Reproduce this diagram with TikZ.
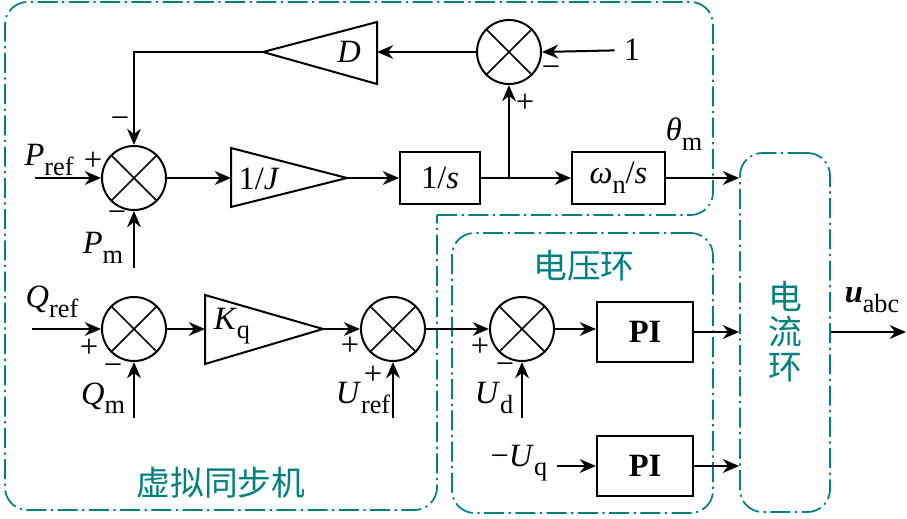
\documentclass[tikz,border=0pt]{standalone}
\usepackage{fontspec}
\setmainfont{Liberation Serif}
\newfontfamily\cjk{Noto Sans CJK SC}
\usetikzlibrary{arrows.meta}
\definecolor{loopteal}{RGB}{0,128,128}
% lowered, slightly smaller subscript in text mode
\newcommand\sbs[1]{\raisebox{-3.8pt}{\fontsize{10.5}{10}\selectfont #1}}

\tikzset{
  arr/.style={-{Stealth[length=6.5pt,width=5.5pt]}},
  sumnode/.style={draw, circle, minimum size=25.6pt, inner sep=0pt},
  block/.style={draw, minimum height=20.8pt, inner sep=0pt},
  loopbox/.style={draw=loopteal, line width=0.7pt, rounded corners=9pt,
    dash pattern=on 8pt off 1.8pt on 0.9pt off 1.8pt},
  sign/.style={inner sep=0pt, font=\fontsize{13}{14}\selectfont},
  looptag/.style={text=loopteal, font=\cjk\fontsize{13.5}{14}\selectfont},
}

\begin{document}
\begin{tikzpicture}[x=0.4pt, y=-0.4pt, line width=0.8pt, font=\fontsize{13}{15}\selectfont]
\useasboundingbox (0,0) rectangle (907,519);

%the three dash-dot loop boxes
\draw[loopbox] (437,215) -- (713,215) -- (713,2) -- (5,2) -- (5,510)
  -- (437,510) -- (437,215);
\node[loopbox, minimum width=104.4pt, minimum height=112pt] (vl) at (582.5,373) {};
\node[loopbox, minimum width=36pt, minimum height=143.6pt] (cl) at (785,332.5) {};
\node[looptag] (vsmtag) at (221,483) {虚拟同步机};
\node[looptag] (vltag) at (584,266) {电压环};
\node[looptag, align=center, font=\cjk\fontsize{13.5}{14}\selectfont] (cltag) at (785,332) {电\\流\\环};

%summing junctions
\node[sumnode] (s1) at (134,178) {};
\node[sumnode] (s2) at (509,52) {};
\node[sumnode] (s3) at (134,329) {};
\node[sumnode] (s4) at (393,329) {};
\node[sumnode] (s5) at (522,329) {};
\foreach \s in {s1,s2,s3,s4,s5}
  \draw[line width=0.7pt] (\s.north west) -- (\s.south east) (\s.north east) -- (\s.south west);

%gain triangles
\draw (377,22) -- (377,84) -- (263,52) -- cycle;
\coordinate (Dbase) at (377,52);
\coordinate (Dtip) at (263,52);
\node (D) at (349,52) {\textit{D}};
\draw (231,148) -- (231,207) -- (347,178) -- cycle;
\coordinate (Jin) at (231,178);
\coordinate (Jout) at (347,178);
\node (J) at (259,179) {1/\textit{J}};
\draw (205,295) -- (205,364) -- (323,329) -- cycle;
\coordinate (Kin) at (205,329);
\coordinate (Kout) at (323,329);
\node (K) at (232,326) {\textit{K}\sbs{q}};

%blocks
\node[block, minimum width=32pt] (int) at (440,178) {1/\textit{s}};
\node[block, minimum width=37.2pt] (wn) at (618.5,178) {\textit{ω}\sbs{n}/\textit{s}};
\node[block, minimum width=38.4pt, minimum height=24pt, font=\fontsize{13}{15}\selectfont\bfseries] (pi1) at (645,332) {PI};
\node[block, minimum width=38.4pt, minimum height=24pt, font=\fontsize{13}{15}\selectfont\bfseries] (pi2) at (645,466) {PI};

%inputs and labels
\coordinate (pref) at (35,178);
\coordinate (pm) at (134,268);
\coordinate (qref) at (32,329);
\coordinate (qm) at (134,418);
\coordinate (uref) at (393,418);
\coordinate (ud) at (522,418);
\coordinate (out) at (906,332);
\node (preftag) at (49,160) {\textit{P}\sbs{ref}};
\node (pmtag) at (103,248) {\textit{P}\sbs{m}};
\node (qreftag) at (52,302) {\textit{Q}\sbs{ref}};
\node (qmtag) at (103,398) {\textit{Q}\sbs{m}};
\node (ureftag) at (363,398) {\textit{U}\sbs{ref}};
\node (udtag) at (494,398) {\textit{U}\sbs{d}};
\node (uq) at (519,463) {−\textit{U}\sbs{q}};
\node (one) at (632,50) {1};
\node (theta) at (684,134) {\textit{θ}\sbs{m}};
\node (uabc) at (872,300) {\textbf{\textit{u}}\sbs{abc}};

%signs
\node[sign] (p1) at (93,161) {+};
\node[sign] (m1) at (120,123) {−};
\node[sign] (m2) at (117,217) {−};
\node[sign] (m3) at (551,72) {−};
\node[sign] (p2) at (525,103) {+};
\node[sign] (p3) at (89,348) {+};
\node[sign] (m4) at (113,370) {−};
\node[sign] (p4) at (350,346) {+};
\node[sign] (p5) at (373,375) {+};
\node[sign] (p6) at (480,347) {+};
\node[sign] (m5) at (505,369) {−};

%connectors
\draw[arr] (pref) -- (s1.west);
\draw[arr] (pm) -- (s1.south);
\draw[arr] (s1.east) -- (Jin);
\draw[arr] (Jout) -- (int.west);
\draw[arr] (int.east) -- (wn.west);
\draw[arr] (int.east -| s2) -- (s2.south);
\draw[arr] (one) -- (s2.east);
\draw[arr] (s2.west) -- (Dbase);
\draw[arr] (Dtip) -| (s1.north);
\draw[arr] (wn.east) -- (wn.east -| cl.west);
\draw[arr] (qref) -- (s3.west);
\draw[arr] (qm) -- (s3.south);
\draw[arr] (s3.east) -- (Kin);
\draw[arr] (Kout) -- (s4.west);
\draw[arr] (uref) -- (s4.south);
\draw[arr] (s4.east) -- (s5.west);
\draw[arr] (ud) -- (s5.south);
\draw[arr] (s5.east) -- (s5.east -| pi1.west);
\draw[arr] (pi1.east) -- (pi1.east -| cl.west);
\draw[arr] (pi2.west -| uq.east) -- (pi2.west);
\draw[arr] (pi2.east) -- (pi2.east -| cl.west);
\draw[arr] (pi1.east -| cl.east) -- (out);
\end{tikzpicture}
\end{document}
